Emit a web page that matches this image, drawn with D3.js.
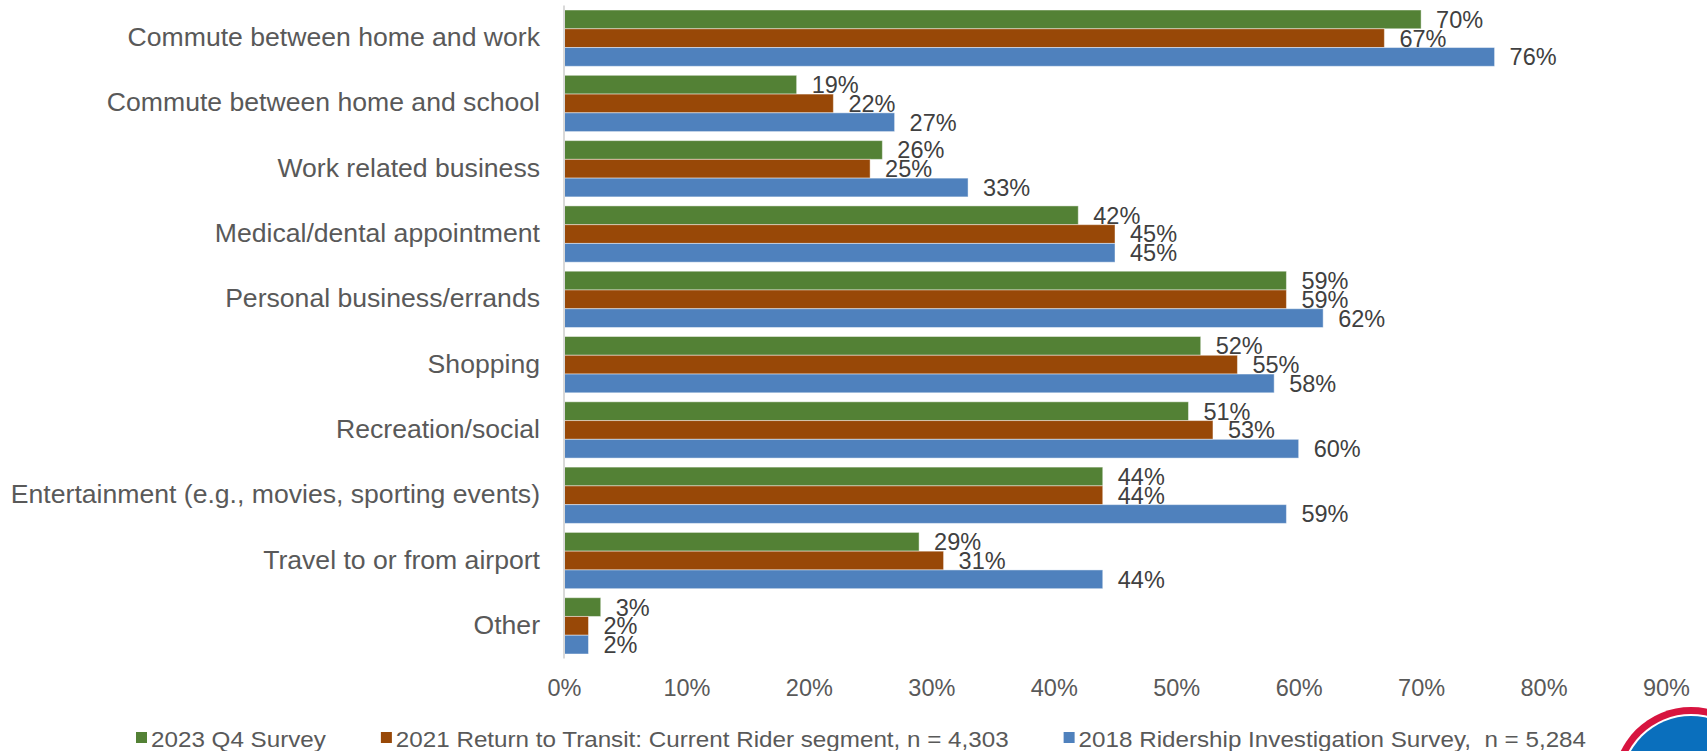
<!DOCTYPE html>
<html>
<head>
<meta charset="utf-8">
<script src="https://cdn.jsdelivr.net/npm/d3@7"></script>
<style>
  html, body { margin: 0; padding: 0; background: #fff; }
  svg { display: block; font-family: "Liberation Sans", Arial, sans-serif; }
</style>
</head>
<body>
<svg id="chart" width="1707" height="751"></svg>
<script>
// Trip purposes, top to bottom
const categories = [
  "Commute between home and work",
  "Commute between home and school",
  "Work related business",
  "Medical/dental appointment",
  "Personal business/errands",
  "Shopping",
  "Recreation/social",
  "Entertainment (e.g., movies, sporting events)",
  "Travel to or from airport",
  "Other"
];

// Survey series (legend order)
const seriesNames = [
  "2023 Q4 Survey",
  "2021 Return to Transit: Current Rider segment, n = 4,303",
  "2018 Ridership Investigation Survey,  n = 5,284"
];

// Share of riders (%) per trip purpose, one array per survey
const survey2023 = [70, 19, 26, 42, 59, 52, 51, 44, 29, 3];
const survey2021 = [67, 22, 25, 45, 59, 55, 53, 44, 31, 2];
const survey2018 = [76, 27, 33, 45, 62, 58, 60, 59, 44, 2];

// X axis ticks (%)
const xTicks = [0, 10, 20, 30, 40, 50, 60, 70, 80, 90];

const colors = ["#538135", "#984807", "#4f81bd"];
const seriesValues = [survey2023, survey2021, survey2018];

const svg = d3.select("#chart");

const x = d3.scaleLinear().domain([0, 90]).range([564, 1666]);
const y = d3.scaleBand().domain(categories).range([5.5, 658.5])
  .paddingInner(0.138).paddingOuter(0.069);
const ySub = d3.scaleBand().domain(d3.range(seriesNames.length))
  .range([0, y.bandwidth()]);

const rows = categories.map((c, i) => ({
  category: c,
  values: seriesValues.map((arr, s) => ({ s, v: arr[i] }))
}));

// Bars
const groups = svg.append("g").selectAll("g")
  .data(rows).join("g")
  .attr("transform", d => `translate(0,${y(d.category)})`);

groups.selectAll("rect")
  .data(d => d.values).join("rect")
  .attr("x", x(0))
  .attr("y", d => ySub(d.s))
  .attr("width", d => x(d.v) - x(0))
  .attr("height", ySub.bandwidth())
  .attr("fill", d => colors[d.s])
  .attr("stroke", "rgba(255,255,255,0.45)")
  .attr("stroke-width", 1);

// Value labels
groups.selectAll("text")
  .data(d => d.values).join("text")
  .attr("x", d => x(d.v) + 15)
  .attr("y", d => ySub(d.s) + ySub.bandwidth() / 2)
  .attr("dy", "0.36em")
  .attr("font-size", 23.5)
  .attr("fill", "#404040")
  .text(d => d.v + "%");

// Category axis (left)
const yAxis = svg.append("g")
  .attr("transform", `translate(${x(0)},0)`)
  .call(d3.axisLeft(y).tickSize(0).tickPadding(24));
yAxis.select(".domain").attr("stroke", "#d9d9d9").attr("stroke-width", 2)
  .attr("d", `M0,${y.range()[0]}V${y.range()[1]}`);
yAxis.selectAll("text")
  .attr("font-size", 26.6)
  .attr("font-family", "Liberation Sans, Arial, sans-serif")
  .attr("fill", "#595959")
  .attr("dy", "0.3em");

// Percentage axis (bottom, labels only)
const xAxis = svg.append("g")
  .attr("transform", `translate(0,${y.range()[1]})`)
  .call(d3.axisBottom(x).tickValues(xTicks).tickSize(0).tickPadding(20.5)
    .tickFormat(d => d + "%"));
xAxis.select(".domain").remove();
xAxis.selectAll("text")
  .attr("font-size", 23.5)
  .attr("font-family", "Liberation Sans, Arial, sans-serif")
  .attr("fill", "#595959");

// Legend (glyphs slightly widened)
const legend = svg.append("g");
let lx = 136;
seriesNames.forEach((name, i) => {
  const item = legend.append("g");
  item.append("rect")
    .attr("x", lx).attr("y", 732)
    .attr("width", 11).attr("height", 11)
    .attr("fill", colors[i]);
  const t = item.append("text")
    .attr("x", lx + 15).attr("y", 747)
    .attr("font-size", 22)
    .attr("fill", "#595959")
    .style("white-space", "pre")
    .text(name);
  const w = t.node().getComputedTextLength() * 1.1;
  t.attr("textLength", w).attr("lengthAdjust", "spacingAndGlyphs");
  lx += 15 + w + 55;
});

// Corner emblem
const logo = svg.append("g");
logo.append("circle").attr("cx", 1691).attr("cy", 785).attr("r", 78).attr("fill", "#d7143f");
logo.append("circle").attr("cx", 1691).attr("cy", 785).attr("r", 71).attr("fill", "#ffffff");
logo.append("circle").attr("cx", 1691).attr("cy", 785).attr("r", 69).attr("fill", "#0a6fbd");
</script>
</body>
</html>
